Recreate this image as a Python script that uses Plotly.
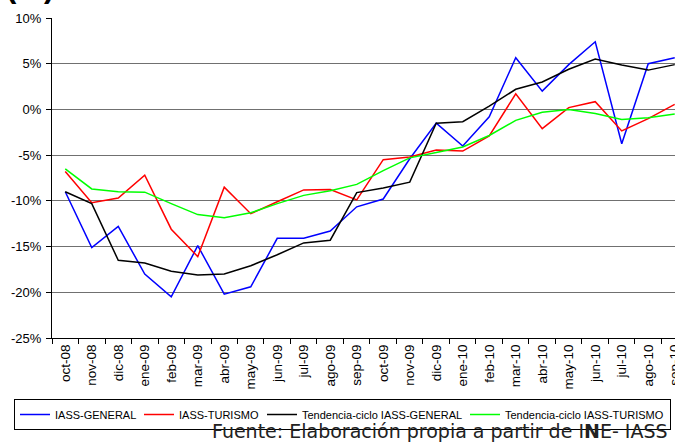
import plotly.graph_objects as go

months = ["oct-08", "nov-08", "dic-08", "ene-09", "feb-09", "mar-09", "abr-09", "may-09",
          "jun-09", "jul-09", "ago-09", "sep-09", "oct-09", "nov-09", "dic-09", "ene-10",
          "feb-10", "mar-10", "abr-10", "may-10", "jun-10", "jul-10", "ago-10", "sep-10"]

iass_general = [-9.0, -15.1, -12.8, -18.0, -20.5, -14.9, -20.2, -19.4, -14.1, -14.1, -13.3, -10.65,
                -9.8, -5.4, -1.5, -4.0, -0.8, 5.65, 2.0, 4.9, 7.4, -3.75, 5.0, 5.65]
iass_turismo = [-6.8, -10.2, -9.7, -7.2, -13.1, -16.1, -8.5, -11.4, -10.1, -8.8, -8.75, -9.9,
                -5.5, -5.2, -4.45, -4.55, -2.9, 1.7, -2.1, 0.2, 0.85, -2.35, -1.0, 0.55]
tc_general = [-9.0, -10.3, -16.5, -16.8, -17.7, -18.1, -18.0, -17.1, -15.9, -14.6, -14.3, -9.1,
              -8.6, -7.95, -1.5, -1.35, 0.35, 2.2, 3.0, 4.4, 5.5, 4.85, 4.3, 4.9]
tc_turismo = [-6.5, -8.7, -9.0, -9.05, -10.3, -11.5, -11.85, -11.3, -10.3, -9.4, -8.9, -8.2,
              -6.7, -5.3, -4.7, -4.1, -2.85, -1.2, -0.3, 0.0, -0.45, -1.1, -0.9, -0.5]

series_names = ["IASS-GENERAL", "IASS-TURISMO", "Tendencia-ciclo IASS-GENERAL", "Tendencia-ciclo IASS-TURISMO"]
series_colors = ["#0000FF", "#FF0000", "#000000", "#00FF00"]
legend_widths = [79, 78, 158, 160]

y_tick_vals = [-25, -20, -15, -10, -5, 0, 5, 10]
y_tick_text = ["-25%", "-20%", "-15%", "-10%", "-5%", "0%", "5%", "10%"]

FONT = "Liberation Sans"
# plot area in pixels
L, T, B, W, H = 52, 18, 104, 623, 320

fig = go.Figure()
for name, vals, col, lw in zip(series_names,
                               [iass_general, iass_turismo, tc_general, tc_turismo],
                               series_colors, legend_widths):
    fig.add_trace(go.Scatter(x=months, y=vals, mode="lines", name=name,
                             legendwidth=lw,
                             line=dict(color=col, width=1.5)))

fig.update_layout(
    width=675, height=442,
    margin=dict(l=L, r=0, t=T, b=B, autoexpand=False),
    paper_bgcolor="white", plot_bgcolor="white",
    font=dict(family=FONT, size=11, color="black"),
    showlegend=True,
    legend=dict(orientation="h", xref="paper", yref="paper",
                x=(14 - L) / W, y=(T + H - 399) / H, xanchor="left", yanchor="top",
                bordercolor="black", borderwidth=1,
                font=dict(family=FONT, size=11, color="black"),
                itemwidth=30, tracegroupgap=0),
    xaxis=dict(type="category", range=[-0.5, 23.01], tickson="boundaries",
               ticks="outside", ticklen=5, tickcolor="black", tickangle=-90,
               showline=True, linecolor="black", linewidth=1, showgrid=False,
               tickfont=dict(family=FONT, size=13.5, color="black")),
    yaxis=dict(range=[-25, 10], tickvals=y_tick_vals, ticktext=y_tick_text,
               ticks="outside", ticklen=5, tickcolor="black", ticklabelstandoff=2,
               showline=True, linecolor="black", linewidth=1,
               showgrid=True, gridcolor="#707070", gridwidth=1, zeroline=False,
               tickfont=dict(family=FONT, size=13, color="black")),
    annotations=[
        dict(text="<b>(%)</b>", xref="paper", yref="paper", x=(4 - L) / W, y=(T + H + 13) / H,
             xanchor="left", yanchor="middle", showarrow=False,
             font=dict(family=FONT, size=31, color="black")),
        dict(text="Fuente: Elaboración propia a partir de I<b>N</b>E- IASS",
             xref="paper", yref="paper", x=(670 - L) / W, y=(T + H - 431) / H,
             xanchor="right", yanchor="middle", showarrow=False,
             font=dict(family="DejaVu Sans", size=19, color="#222222")),
    ],
)

fig.write_html("out.html", config={"displayModeBar": False},
               post_script="document.body.style.margin='0';")
